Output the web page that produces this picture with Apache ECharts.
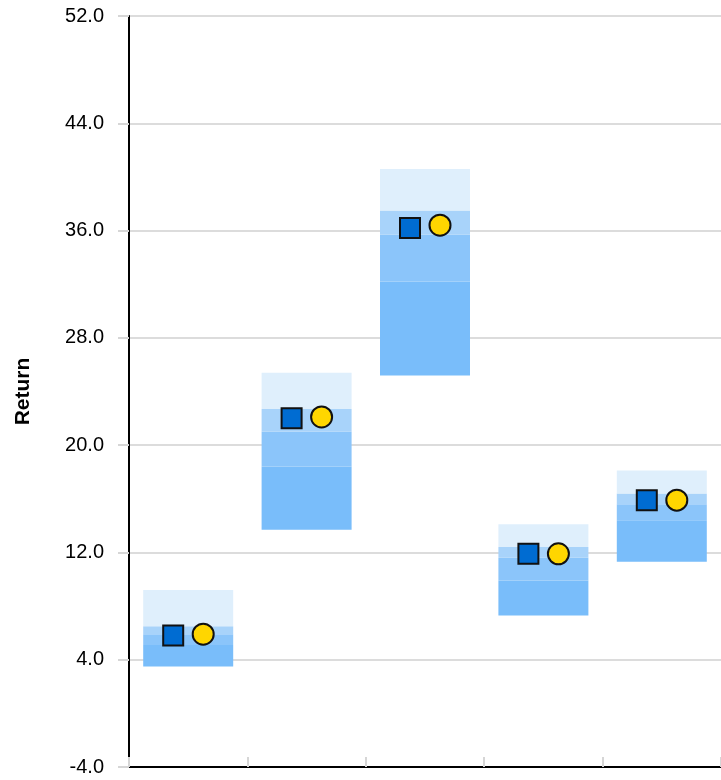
<!DOCTYPE html>
<html>
<head>
<meta charset="utf-8">
<script src="https://cdn.jsdelivr.net/npm/echarts@6/dist/echarts.min.js"></script>
<style>
  html, body { margin: 0; padding: 0; background: #fff; }
  #chartmain { width: 721px; height: 780px; }
</style>
</head>
<body>
<div id="chartmain"></div>
<script>
// categories (no labels shown on the axis)
var categories = ['A', 'B', 'C', 'D', 'E'];

// percentile bands, bottom to top
var p05 = [3.5, 13.7, 25.2, 7.3, 11.3];
var p25 = [5.1, 18.4, 32.2, 9.9, 14.4];
var p50 = [5.9, 21.0, 35.7, 11.6, 15.6];
var p75 = [6.5, 22.7, 37.5, 12.4, 16.4];
var p95 = [9.2, 25.4, 40.6, 14.1, 18.1];

// markers
var squareVals = [5.8, 22.0, 36.2, 11.9, 15.9];
var circleVals = [5.9, 22.1, 36.4, 11.9, 15.9];

// y axis ticks
var yMin = -4, yMax = 52, yStep = 8;

function diff(a, b) {
    return a.map(function (v, i) { return +(v - b[i]).toFixed(2); });
}

var bandColors = ['#79bdfa', '#8bc5fa', '#a8d3fa', '#dfeffc'];

var myChart = echarts.init(document.getElementById('chartmain'));

function band(name, data, color) {
    return {
        name: name,
        type: 'bar',
        stack: 'range',
        barWidth: 90,
        data: data,
        itemStyle: { color: color },
        silent: true,
        z: 3
    };
}

var option = {
    animation: false,
    textStyle: { fontFamily: 'Liberation Sans', color: '#000' },
    grid: { left: 129, top: 16, width: 597, bottom: 13 },
    xAxis: {
        type: 'category',
        data: categories,
        axisLine: { onZero: false, lineStyle: { color: '#000', width: 2 } },
        axisTick: { show: true, inside: true, length: 10, lineStyle: { color: '#d6d6d6', width: 2 } },
        axisLabel: { show: false },
        z: 1
    },
    yAxis: {
        type: 'value',
        min: yMin,
        max: yMax,
        interval: yStep,
        name: 'Return',
        nameLocation: 'middle',
        nameRotate: 90,
        nameGap: 95,
        nameTextStyle: {
            fontFamily: 'Liberation Sans',
            fontWeight: 'bold',
            fontSize: 21,
            color: '#000'
        },
        axisLine: { show: true, lineStyle: { color: '#000', width: 2 } },
        axisTick: { show: true, length: 11, lineStyle: { color: '#d6d6d6', width: 2 } },
        axisLabel: {
            show: true,
            margin: 25,
            fontFamily: 'Liberation Sans',
            fontSize: 20,
            color: '#000',
            formatter: function (v) { return v.toFixed(1); }
        },
        splitLine: { lineStyle: { color: '#dcdcdc', width: 2 } },
        z: 1
    },
    series: [
        {
            name: 'base',
            type: 'bar',
            stack: 'range',
            barWidth: 90,
            data: p05,
            itemStyle: { color: 'transparent' },
            silent: true,
            z: 3
        },
        band('p05-p25', diff(p25, p05), bandColors[0]),
        band('p25-p50', diff(p50, p25), bandColors[1]),
        band('p50-p75', diff(p75, p50), bandColors[2]),
        band('p75-p95', diff(p95, p75), bandColors[3]),
        {
            name: 'square',
            type: 'scatter',
            data: squareVals,
            symbol: 'rect',
            symbolSize: 20,
            symbolOffset: [-15, 0],
            itemStyle: { color: '#006cd2', borderColor: '#111', borderWidth: 2, opacity: 1 },
            z: 10
        },
        {
            name: 'circle',
            type: 'scatter',
            data: circleVals,
            symbol: 'circle',
            symbolSize: 21,
            symbolOffset: [15, 0],
            itemStyle: { color: '#ffd600', borderColor: '#111', borderWidth: 2, opacity: 1 },
            z: 10
        }
    ]
};

myChart.setOption(option);
</script>
</body>
</html>
